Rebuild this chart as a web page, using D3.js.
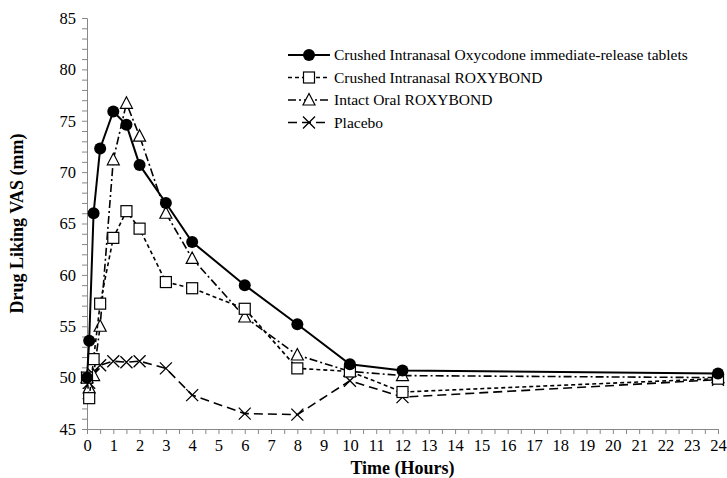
<!DOCTYPE html>
<html>
<head>
    <script src="https://d3js.org/d3.v7.min.js"></script>
<style>
  body { margin: 0; background: #fff; }
  text { font-family: "Liberation Serif", "Times New Roman", serif; fill: #000; }
</style>
</head>
<body>
    <div id="Chart"></div>
    <script>

// time points (hours)
var times = [0, 0.083, 0.25, 0.5, 1, 1.5, 2, 3, 4, 6, 8, 10, 12, 24];

// mean drug liking VAS per treatment
var oxyIR       = [50.0, 53.6, 66.0, 72.3, 75.9, 74.6, 70.7, 67.0, 63.2, 59.0, 55.2, 51.3, 50.7, 50.4];
var crushedRoxy = [50.0, 48.0, 51.8, 57.2, 63.6, 66.2, 64.5, 59.3, 58.7, 56.7, 50.9, 50.6, 48.6, 49.9];
var oralRoxy    = [50.0, 49.0, 50.2, 55.0, 71.2, 76.7, 73.5, 66.0, 61.6, 55.9, 52.2, 50.6, 50.2, 50.0];
var placebo     = [50.0, 49.5, 50.3, 51.2, 51.6, 51.5, 51.6, 50.9, 48.3, 46.5, 46.4, 49.7, 48.1, 49.8];

var seriesNames = ["Crushed Intranasal Oxycodone immediate-release tablets",
                   "Crushed Intranasal ROXYBOND",
                   "Intact Oral ROXYBOND",
                   "Placebo"];

var yTicks = [45, 50, 55, 60, 65, 70, 75, 80, 85];
var xTicks = d3.range(0, 25, 1);

var width = 727, height = 478;

var svg = d3.select("#Chart")
  .append("svg")
    .attr("width", width)
    .attr("height", height);

var x = d3.scaleLinear().domain([0, 24]).range([87, 718]);
var y = d3.scaleLinear().domain([45, 85]).range([429, 18]);

// Y axis: minor ticks every 1, labels every 5
var yAxis = svg.append("g")
    .attr("transform", "translate(" + x(0) + ",0)")
    .call(d3.axisLeft(y).tickValues(d3.range(45, 86, 1)).tickSize(5).tickFormat(""));
yAxis.select(".domain").attr("stroke", "#888");
yAxis.selectAll(".tick line").attr("stroke", "#888");

svg.append("g")
    .attr("transform", "translate(" + x(0) + ",0)")
    .call(d3.axisLeft(y).tickValues(yTicks).tickSize(0).tickPadding(11))
    .call(function(g) { g.select(".domain").remove(); })
    .selectAll("text")
      .style("font-family", "Liberation Serif")
      .style("font-size", "16.5px");

// X axis: ticks every half hour, labels every hour
var xAxis = svg.append("g")
    .attr("transform", "translate(0," + y(45) + ")")
    .call(d3.axisBottom(x).tickValues(d3.range(0, 24.01, 0.5)).tickSize(5).tickFormat(""));
xAxis.select(".domain").attr("stroke", "#888");
xAxis.selectAll(".tick line").attr("stroke", "#888");

svg.append("g")
    .attr("transform", "translate(0," + y(45) + ")")
    .call(d3.axisBottom(x).tickValues(xTicks).tickSize(0).tickPadding(10).tickFormat(d3.format("d")))
    .call(function(g) { g.select(".domain").remove(); })
    .selectAll("text")
      .style("font-family", "Liberation Serif")
      .style("font-size", "16.5px");

// axis titles
svg.append("text")
    .attr("x", (x(0) + x(24)) / 2)
    .attr("y", 474)
    .attr("text-anchor", "middle")
    .style("font-size", "18px")
    .style("font-weight", "bold")
    .text("Time (Hours)");

svg.append("text")
    .attr("transform", "translate(23," + ((y(45) + y(85)) / 2) + ") rotate(-90)")
    .attr("text-anchor", "middle")
    .style("font-size", "18px")
    .style("font-weight", "bold")
    .text("Drug Liking VAS (mm)");

var series = [
  {name: seriesNames[3], values: placebo,     dash: "9,5",      width: 1.6, mark: "x"},
  {name: seriesNames[2], values: oralRoxy,    dash: "8,3,2,3",  width: 1.6, mark: "tri"},
  {name: seriesNames[1], values: crushedRoxy, dash: "4,3",      width: 1.6, mark: "sq"},
  {name: seriesNames[0], values: oxyIR,       dash: null,       width: 2,   mark: "dot"}
];

var line = d3.line()
    .x(function(d) { return x(d[0]); })
    .y(function(d) { return y(d[1]); });

function drawMarker(g, kind, cx, cy) {
  if (kind === "dot") {
    g.append("circle").attr("cx", cx).attr("cy", cy).attr("r", 6).attr("fill", "#000");
  } else if (kind === "sq") {
    g.append("rect").attr("x", cx - 5.5).attr("y", cy - 5.5).attr("width", 11).attr("height", 11)
      .attr("fill", "#fff").attr("stroke", "#000").attr("stroke-width", 1.2);
  } else if (kind === "tri") {
    g.append("path")
      .attr("d", "M" + cx + "," + (cy - 6.5) + "L" + (cx + 6) + "," + (cy + 5) + "L" + (cx - 6) + "," + (cy + 5) + "Z")
      .attr("fill", "#fff").attr("stroke", "#000").attr("stroke-width", 1.2);
  } else {
    g.append("path")
      .attr("d", "M" + (cx - 6) + "," + (cy - 6) + "L" + (cx + 6) + "," + (cy + 6) +
                 "M" + (cx - 6) + "," + (cy + 6) + "L" + (cx + 6) + "," + (cy - 6))
      .attr("fill", "none").attr("stroke", "#000").attr("stroke-width", 1.3);
  }
}

series.forEach(function(s) {
  var pts = times.map(function(t, i) { return [t, s.values[i]]; });
  svg.append("path")
      .datum(pts)
      .attr("fill", "none")
      .attr("stroke", "#000")
      .attr("stroke-width", s.width)
      .attr("stroke-dasharray", s.dash)
      .attr("d", line);
  var g = svg.append("g");
  pts.forEach(function(p) { drawMarker(g, s.mark, x(p[0]), y(p[1])); });
});

// legend
var legendOrder = [series[3], series[2], series[1], series[0]];
var legend = svg.append("g");
legendOrder.forEach(function(s, i) {
  var ly = 55 + i * 22.5;
  legend.append("line")
      .attr("x1", 288).attr("x2", 330)
      .attr("y1", ly).attr("y2", ly)
      .attr("stroke", "#000")
      .attr("stroke-width", s.width)
      .attr("stroke-dasharray", s.dash);
  drawMarker(legend, s.mark, 309, ly);
  legend.append("text")
      .attr("x", 334)
      .attr("y", ly + 5)
      .style("font-size", "15.5px")
      .text(s.name);
});

</script>
</body>
</html>
